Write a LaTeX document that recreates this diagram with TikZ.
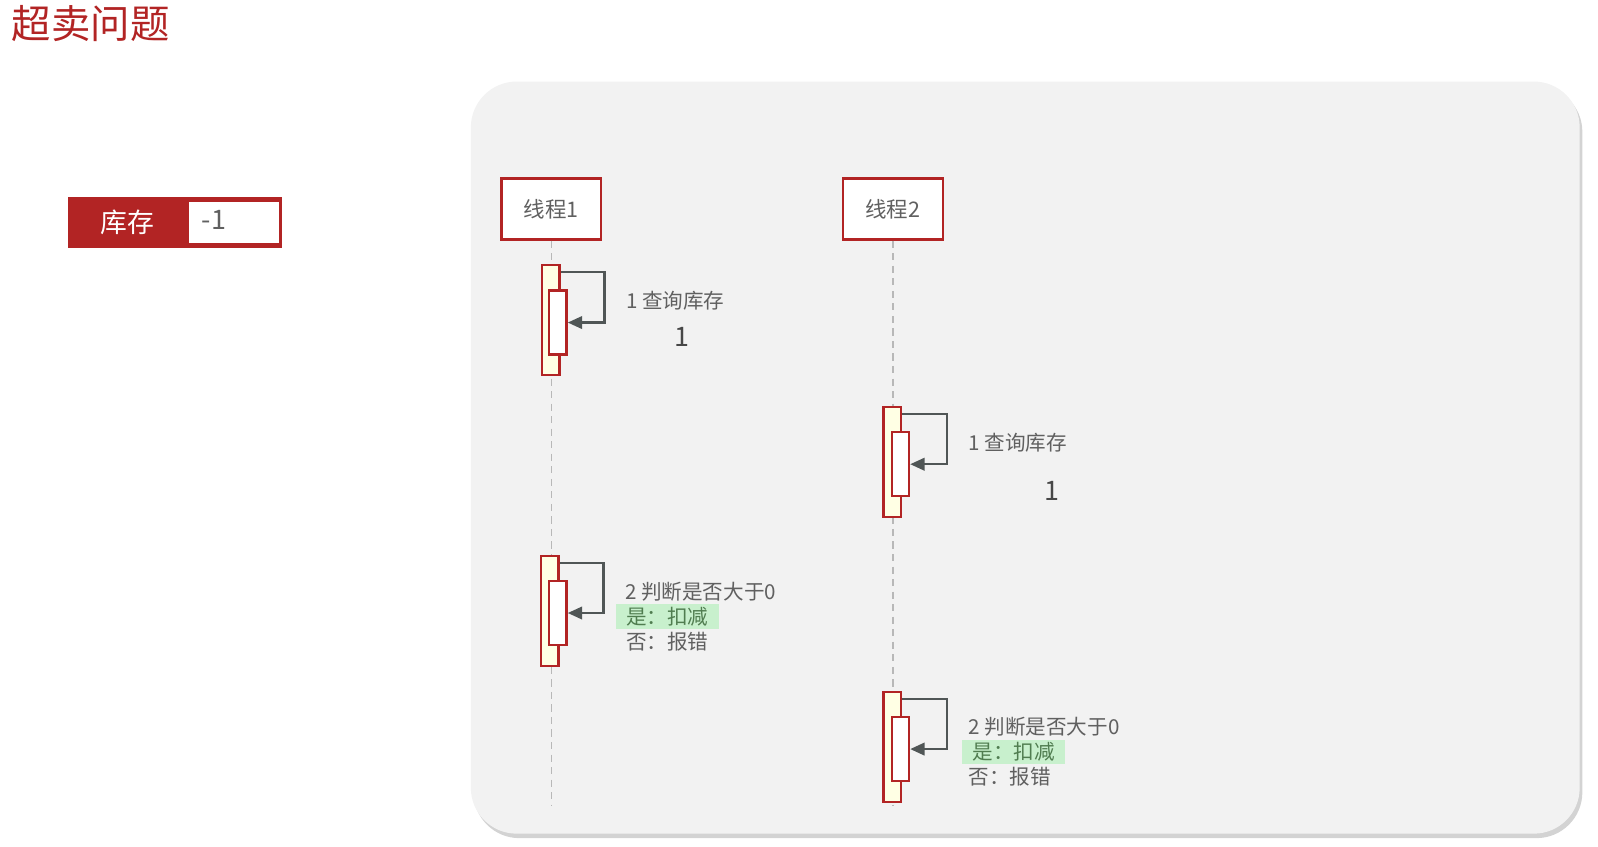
\documentclass[tikz,border=0pt]{standalone}
\usepackage{fontspec}
\newfontfamily\cjk{Noto Sans CJK SC}
\usepackage{xcolor}
\usetikzlibrary{arrows.meta,positioning,calc,shadows}
\definecolor{TitleRed}{RGB}{178,36,36}
\definecolor{PanelGray}{RGB}{242,242,242}
\definecolor{TextGray}{RGB}{96,96,96}
\definecolor{ArrowGray}{RGB}{80,86,86}
\definecolor{ActYellow}{RGB}{255,255,228}
\definecolor{HiGreen}{RGB}{200,240,205}
\definecolor{OkGreen}{RGB}{80,125,80}

\begin{document}
\begin{tikzpicture}[>={Triangle[length=8pt,width=7pt]}, x=0.02cm, y=-0.02cm, font=\cjk,
    thread/.style={draw=TitleRed, line width=1.3pt, fill=white, minimum width=1.96cm, minimum height=1.2cm, text=TextGray, font=\cjk\fontsize{12}{14}\selectfont},
    actouter/.style={draw=TitleRed, line width=1.3pt, fill=ActYellow, minimum width=0.34cm, minimum height=2.16cm, inner sep=0pt},
    actinner/.style={draw=TitleRed, line width=1.3pt, fill=white, minimum width=0.34cm, minimum height=1.26cm, inner sep=0pt},
    lifeline/.style={draw=black!28, line width=0.9pt, dash pattern=on 4pt off 3pt},
    selfcall/.style={->, draw=ArrowGray, line width=1.2pt},
    msg/.style={anchor=west, inner sep=0pt, text=TextGray, font=\cjk\fontsize{11.5}{14}\selectfont},
    val/.style={inner sep=0pt, text=black!72, font=\cjk\fontsize{15}{18}\selectfont},
    okbox/.style={anchor=west, fill=HiGreen, inner xsep=0.2cm, inner ysep=0pt, minimum height=0.48cm, text=OkGreen, font=\cjk\fontsize{11.5}{14}\selectfont}]
  \useasboundingbox (0,0) rectangle (1568,831);

  % title and stock
  \node[text=TitleRed, font=\cjk\fontsize{22}{26}\selectfont] (title) at (89,23) {超卖问题};
  \node[draw=TitleRed, line width=1.5pt, fill=TitleRed, minimum width=4.14cm, minimum height=0.94cm] (stock) at (171.5,218.5) {};
  \node[fill=white, inner sep=0pt, minimum width=1.76cm, minimum height=0.8cm, anchor=east] (stockval) at ([xshift=-1.5pt]stock.east) {};
  \node[text=white, font=\cjk\fontsize{15}{18}\selectfont] (stocklbl) at (125,218) {库存};
  \node[text=TextGray, font=\cjk\fontsize{15}{18}\selectfont] (stocknum) at (210,216) {-1};

  % panel
  \fill[PanelGray, rounded corners=0.9cm, drop shadow={shadow xshift=1.5pt, shadow yshift=-2.5pt, opacity=0.35}] (462,80) rectangle (1550,818);

  % threads and lifelines
  \node[thread] (t1) at (541,205) {线程1};
  \node[thread] (t2) at (876,205) {线程2};
  \coordinate (e1) at (541,790);
  \coordinate (e2) at (876,790);
  \draw[lifeline] (t1.south) -- (e1);
  \draw[lifeline] (t2.south) -- (e2);

  % thread 1
  \node[actouter] (a1o) at (540.5,314) {};
  \node[actinner] (a1i) at (547.5,316.5) {};
  \draw[selfcall] ($(a1o.north east)+(0,8)$) -- ++(43,0) |- (a1i.east);
  \node[msg] (q1) at (614,295) {1 查询库存};
  \node[val] (v1) at (669,331) {1};

  \node[actouter] (b1o) at (539.5,599.5) {};
  \node[actinner] (b1i) at (547.5,601.5) {};
  \draw[selfcall] ($(b1o.north east)+(0,8)$) -- ++(43,0) |- (b1i.east);
  \node[msg] (c1) at (613,581) {2 判断是否大于0};
  \node[okbox] (y1) at (604,605) {是：扣减};
  \node[msg] (n1) at (614,630) {否：报错};

  % thread 2
  \node[actouter] (a2o) at (875.5,453.5) {};
  \node[actinner] (a2i) at (883.5,455.5) {};
  \draw[selfcall] ($(a2o.north east)+(0,8)$) -- ++(44,0) |- (a2i.east);
  \node[msg] (q2) at (950,434) {1 查询库存};
  \node[val] (v2) at (1032,482) {1};

  \node[actouter] (b2o) at (875.5,733) {};
  \node[actinner] (b2i) at (883.5,735) {};
  \draw[selfcall] ($(b2o.north east)+(0,8)$) -- ++(44,0) |- (b2i.east);
  \node[msg] (c2) at (950,713) {2 判断是否大于0};
  \node[okbox] (y2) at (944,738) {是：扣减};
  \node[msg] (n2) at (950,762) {否：报错};
\end{tikzpicture}
\end{document}
